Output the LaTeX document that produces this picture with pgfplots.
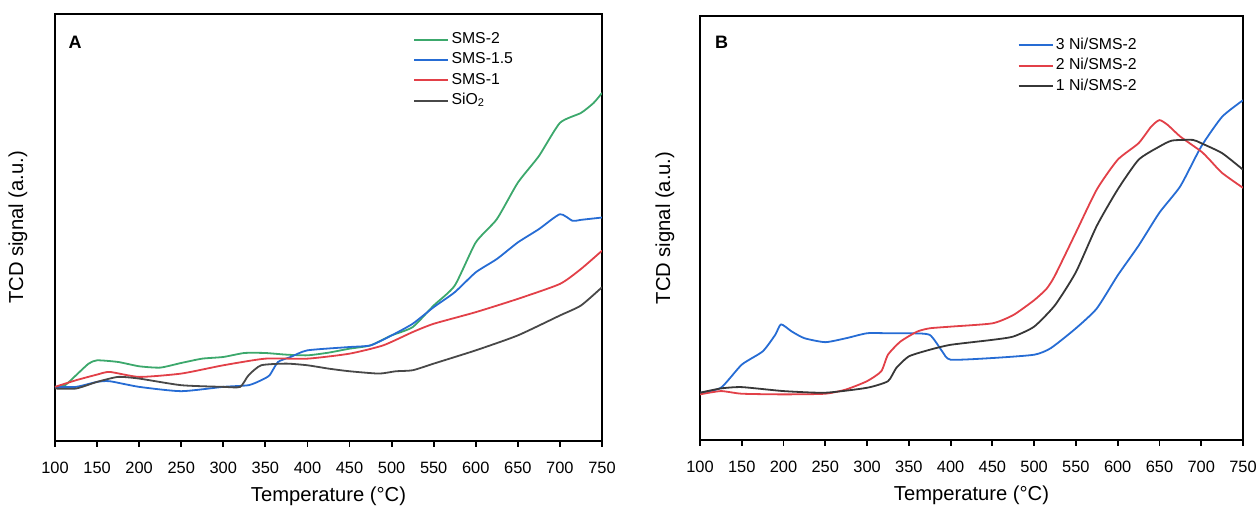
\documentclass[border=0pt]{standalone}
\usepackage{pgfplots}
\pgfplotsset{compat=1.18}
\usepackage{fontspec}
\setmainfont{Liberation Sans}
\definecolor{cgreen}{RGB}{60,168,108}
\definecolor{cblue}{RGB}{38,108,212}
\definecolor{cred}{RGB}{226,64,72}
\definecolor{cgray}{RGB}{72,72,72}
\definecolor{cblack}{RGB}{55,55,55}
\pgfplotsset{
  tpr/.style={
    scale only axis,
    xmin=100, xmax=750, ymin=0,
    xtick={100,150,...,750},
    ytick=\empty,
    axis line style={line width=1.1pt},
    tick align=outside,
    tick style={line width=0.9pt, black},
    major tick length=3pt,
    xtick pos=bottom,
    /pgf/number format/assume math mode=true,
    tick label style={font=\fontsize{8.2}{9}\selectfont},
    xticklabel style={yshift=-4pt},
    label style={font=\fontsize{10.1}{12}\selectfont},
    xlabel={Temperature (°C)},
    ylabel={TCD signal (a.u.)},
    xlabel style={at={(axis description cs:0.5,0)}, anchor=center, yshift=-27.6pt},
    legend cell align=left,
    legend style={draw=none, fill=none, font=\fontsize{7.9}{9}\selectfont,
      row sep=0.7pt, inner sep=0pt,
      nodes={inner sep=1.2pt}},
    legend image code/.code={\draw[#1, line width=1pt] (0pt,0pt) -- (17pt,0pt);},
    every axis plot/.append style={line width=0.9pt, line join=round, smooth, tension=0.35},
  }
}
\begin{document}
\begin{tikzpicture}
\begin{axis}[tpr, at={(27.5pt,32.5pt)}, anchor=south west,
  width=273.5pt, height=213.5pt, ymax=1286,
  ylabel style={at={(axis description cs:0,0.5)}, anchor=center, yshift=18.5pt},
  legend style={at={(rel axis cs:0.654,0.963)}, anchor=north west}]
\addplot[cgreen] coordinates {(100,163)(112,168)(125,198)(140,233)(150,243)(175,238)(200,225)(225,221)(250,235)(275,248)(300,253)(325,265)(350,265)(375,260)(400,258)(425,266)(450,278)(475,288)(500,318)(525,343)(550,408)(575,468)(600,598)(625,668)(650,778)(675,858)(700,958)(725,988)(740,1018)(750,1048)};
\addlegendentry{SMS-2}
\addplot[cblue] coordinates {(100,163)(125,163)(150,178)(165,180)(200,163)(250,150)(300,163)(330,168)(345,183)(355,198)(365,238)(380,253)(400,273)(450,283)(475,288)(500,318)(525,353)(550,403)(575,448)(600,508)(625,548)(650,598)(675,638)(700,683)(715,663)(725,666)(750,673)};
\addlegendentry{SMS-1.5}
\addplot[cred] coordinates {(100,163)(125,183)(150,200)(165,208)(200,193)(250,203)(300,228)(350,248)(400,248)(450,263)(490,288)(525,328)(550,353)(600,388)(650,428)(700,473)(725,518)(750,573)};
\addlegendentry{SMS-1}
\addplot[cgray] coordinates {(100,158)(125,158)(150,178)(175,193)(200,188)(250,168)(300,163)(320,163)(330,198)(345,228)(375,233)(400,228)(425,218)(450,210)(485,203)(505,210)(525,213)(550,233)(600,273)(650,318)(700,378)(725,408)(750,463)};
\addlegendentry{SiO\textsubscript{2}}
\node[font=\bfseries\fontsize{9}{10}\selectfont, anchor=center] at (rel axis cs:0.037,0.934) {A};
\end{axis}
\begin{axis}[tpr, at={(350pt,33pt)}, anchor=south west,
  width=271.5pt, height=212pt, ymax=1283,
  ylabel style={at={(axis description cs:0,0.5)}, anchor=center, yshift=17.5pt},
  legend style={at={(rel axis cs:0.584,0.955)}, anchor=north west}]
\addplot[cblue] coordinates {(100,143)(125,158)(150,228)(175,268)(190,318)(197,350)(210,328)(225,308)(250,296)(275,308)(300,323)(325,323)(350,323)(375,318)(390,268)(400,243)(450,248)(500,258)(520,278)(550,338)(575,398)(600,498)(625,588)(650,688)(675,768)(700,888)(725,978)(750,1028)};
\addlegendentry{3 Ni/SMS-2}
\addplot[cred] coordinates {(100,138)(125,148)(150,140)(200,138)(250,140)(275,153)(300,178)(317,208)(325,258)(340,298)(360,328)(375,338)(400,343)(450,353)(475,378)(500,423)(515,458)(525,498)(550,628)(575,758)(600,848)(625,898)(640,948)(650,968)(660,953)(675,918)(700,873)(710,848)(725,808)(750,763)};
\addlegendentry{2 Ni/SMS-2}
\addplot[cblack] coordinates {(100,143)(125,156)(150,160)(200,148)(250,143)(300,158)(325,178)(335,218)(350,253)(375,273)(400,288)(450,303)(475,313)(500,343)(525,408)(550,508)(575,648)(600,758)(625,848)(650,888)(665,906)(690,908)(700,898)(725,868)(750,818)};
\addlegendentry{1 Ni/SMS-2}
\node[font=\bfseries\fontsize{9}{10}\selectfont, anchor=center] at (rel axis cs:0.04,0.939) {B};
\end{axis}
\pgfresetboundingbox
\path (0pt,0pt) rectangle (630pt,253pt);
\end{tikzpicture}
\end{document}
